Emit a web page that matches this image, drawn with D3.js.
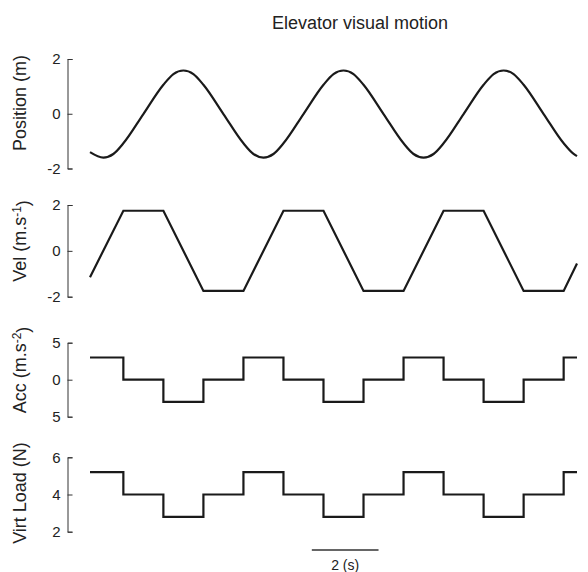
<!DOCTYPE html>
<html>
<head>
<meta charset="utf-8">
<script src="https://cdn.jsdelivr.net/npm/d3@7"></script>
<style>
  body { margin: 0; background: #fff; }
  text { font-family: "Liberation Sans", Arial, sans-serif; fill: #222; }
</style>
</head>
<body>
<div id="chart"></div>
<script>
// time (s) of the sampled position trace
const posTimes = [0, 0.4, 0.7, 1.0, 1.6, 2.2, 2.5, 2.8, 3.1, 3.4, 4.0, 4.6, 4.9, 5.2, 5.5, 5.8, 6.4,
  7.0, 7.3, 7.6, 7.9, 8.2, 8.8, 9.4, 9.7, 10.0, 10.3, 10.6, 11.2, 11.8, 12.1, 12.4, 12.7, 13.0, 13.6,
  14.2, 14.5, 14.6];
const posValues = [-1.4, -1.6, -1.47, -1.08, -0.01, 1.06, 1.45, 1.58, 1.45, 1.06, -0.01, -1.08, -1.47, -1.6, -1.47, -1.08, -0.01,
  1.06, 1.45, 1.58, 1.45, 1.06, -0.01, -1.08, -1.47, -1.6, -1.47, -1.08, -0.01, 1.06, 1.45, 1.58, 1.45, 1.06, -0.01,
  -1.08, -1.47, -1.55];

// segment boundaries shared by velocity, acceleration and load
const segTimes = [0, 1.0, 2.2, 3.4, 4.6, 5.8, 7.0, 8.2, 9.4, 10.6, 11.8, 13.0, 14.2, 14.6];
const velValues = [-1.15, 1.75, 1.75, -1.75, -1.75, 1.75, 1.75, -1.75, -1.75, 1.75, 1.75, -1.75, -1.75, -0.55];
const accValues = [3, 0, -3, 0, 3, 0, -3, 0, 3, 0, -3, 0, 3, 3];
const loadValues = [5.2, 4, 2.8, 4, 5.2, 4, 2.8, 4, 5.2, 4, 2.8, 4, 5.2, 5.2];

const posTicks = [-2, 0, 2];
const velTicks = [-2, 0, 2];
const accTicks = [-5, 0, 5];
const accTickLabels = ['5', '0', '5'];
const loadTicks = [2, 4, 6];

const scaleBarStart = 6.65;
const scaleBarLength = 2;

const width = 588;
const height = 572;
const axisX = 67.5;

const svg = d3.select('#chart')
  .append('svg')
  .attr('width', width)
  .attr('height', height);

svg.append('rect').attr('width', width).attr('height', height).attr('fill', '#fff');

const x = d3.scaleLinear().domain([0, 14.6]).range([90, 577]);

const panels = [
  { t: posTimes, v: posValues, domain: [-2, 2], range: [168.5, 59], ticks: posTicks,
    curve: d3.curveMonotoneX, label: ['Position (m)'], labelY: 103 },
  { t: segTimes, v: velValues, domain: [-2, 2], range: [296.7, 205], ticks: velTicks,
    curve: d3.curveLinear, label: ['Vel (m.s', '-1', ')'], labelY: 241 },
  { t: segTimes, v: accValues, domain: [-5, 5], range: [416.7, 342.7], ticks: accTicks,
    tickLabels: accTickLabels, curve: d3.curveStepAfter, label: ['Acc (m.s', '-2', ')'], labelY: 370 },
  { t: segTimes, v: loadValues, domain: [2, 6], range: [531.7, 457.3], ticks: loadTicks,
    curve: d3.curveStepAfter, label: ['Virt Load (N)'], labelY: 493 },
];

panels.forEach((p) => {
  const y = d3.scaleLinear().domain(p.domain).range(p.range);

  const axis = d3.axisLeft(y)
    .tickValues(p.ticks)
    .tickSizeInner(-5)
    .tickSizeOuter(-5)
    .tickPadding(7)
    .tickFormat((d, i) => (p.tickLabels ? p.tickLabels[i] : String(d)));

  const g = svg.append('g')
    .attr('transform', `translate(${axisX},0)`)
    .call(axis);
  g.select('.domain').attr('stroke', '#333');
  g.selectAll('.tick line').attr('stroke', '#333');
  g.selectAll('.tick text')
    .style('font-size', '15px')
    .style('font-family', '"Liberation Sans", Arial, sans-serif')
    .attr('fill', '#222');

  const pts = p.t.map((t, i) => [t, p.v[i]]);
  const line = d3.line()
    .x(d => x(d[0]))
    .y(d => y(d[1]))
    .curve(p.curve);

  svg.append('path')
    .datum(pts)
    .attr('d', line)
    .attr('fill', 'none')
    .attr('stroke', '#1a1a1a')
    .attr('stroke-width', 2.2)
    .attr('stroke-linejoin', 'miter');

  const lab = svg.append('text')
    .attr('transform', `translate(26,${p.labelY}) rotate(-90)`)
    .attr('text-anchor', 'middle')
    .style('font-size', '18px');
  lab.append('tspan').text(p.label[0]);
  if (p.label.length > 1) {
    lab.append('tspan').attr('dy', '-0.45em').style('font-size', '12px').text(p.label[1]);
    lab.append('tspan').attr('dy', '0.45em').text(p.label[2]);
  }
});

// title
svg.append('text')
  .attr('x', 360)
  .attr('y', 29)
  .attr('text-anchor', 'middle')
  .style('font-size', '18px')
  .text('Elevator visual motion');

// time scale bar
svg.append('line')
  .attr('x1', x(scaleBarStart))
  .attr('x2', x(scaleBarStart + scaleBarLength))
  .attr('y1', 550)
  .attr('y2', 550)
  .attr('stroke', '#333')
  .attr('stroke-width', 1.5);

svg.append('text')
  .attr('x', x(scaleBarStart + scaleBarLength / 2))
  .attr('y', 570)
  .attr('text-anchor', 'middle')
  .style('font-size', '14px')
  .text(`${scaleBarLength} (s)`);
</script>
</body>
</html>
